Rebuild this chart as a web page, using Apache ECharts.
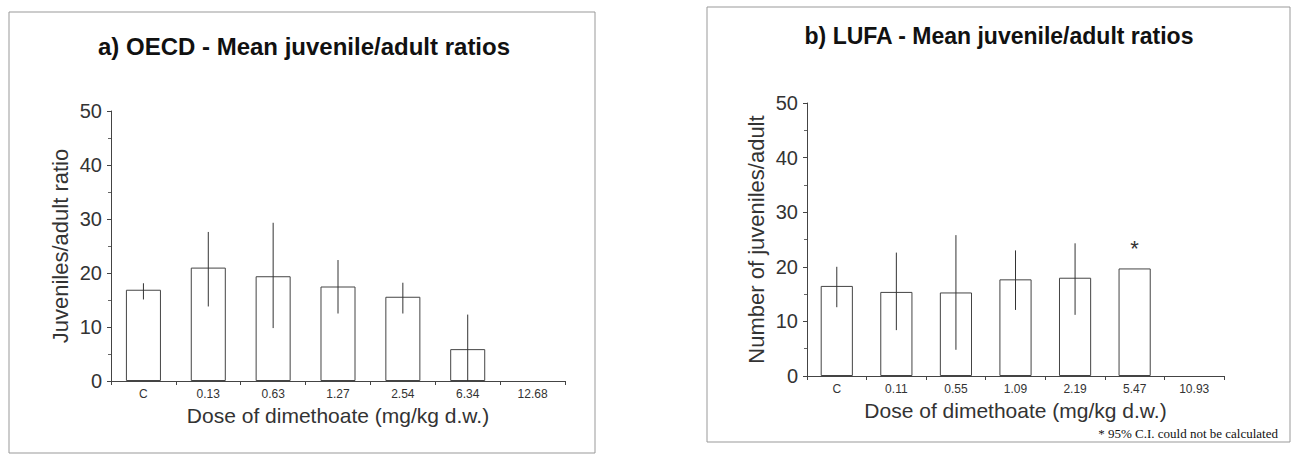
<!DOCTYPE html>
<html>
<head>
<meta charset="utf-8">
<script src="https://cdn.jsdelivr.net/npm/echarts@6/dist/echarts.min.js"></script>
<style>
  html, body { margin: 0; padding: 0; background: #fff; }
  #main { width: 1302px; height: 455px; }
</style>
</head>
<body>
<div id="main"></div>
<script>
// a) OECD
var oecdDoses = ['C', '0.13', '0.63', '1.27', '2.54', '6.34', '12.68'];
var oecdMean = [16.9, 21.0, 19.4, 17.5, 15.6, 5.9, null];
var oecdLow = [15.1, 13.8, 9.8, 12.5, 12.5, 0, null];
var oecdHigh = [18.1, 27.6, 29.3, 22.4, 18.2, 12.3, null];

// b) LUFA
var lufaDoses = ['C', '0.11', '0.55', '1.09', '2.19', '5.47', '10.93'];
var lufaMean = [16.5, 15.4, 15.3, 17.7, 18.0, 19.7, null];
var lufaLow = [12.6, 8.4, 4.8, 12.1, 11.2, null, null];
var lufaHigh = [20.0, 22.6, 25.8, 23.0, 24.3, null, null];
var lufaNote = ['', '', '', '', '', '*', ''];

var yTicks = [0, 10, 20, 30, 40, 50];

var ink = '#333';
var font = "'Liberation Sans', Arial, sans-serif";

// error bars: [category index, low, high]
function errData(low, high) {
    var out = [];
    for (var i = 0; i < low.length; i++) {
        if (low[i] != null && high[i] != null) out.push([i, low[i], high[i]]);
    }
    return out;
}

function renderErr(params, api) {
    var p1 = api.coord([api.value(0), api.value(1)]);
    var p2 = api.coord([api.value(0), api.value(2)]);
    return {
        type: 'line',
        shape: { x1: p1[0], y1: p1[1], x2: p2[0], y2: p2[1] },
        style: { stroke: ink, lineWidth: 1 }
    };
}

function xAx(idx, cats) {
    return {
        type: 'category',
        gridIndex: idx,
        data: cats,
        name: 'Dose of dimethoate (mg/kg d.w.)',
        nameLocation: 'middle',
        nameGap: 21,
        nameTextStyle: { fontFamily: font, fontSize: 21, color: ink },
        axisLine: { lineStyle: { color: '#444', width: 1 } },
        axisTick: { show: true, length: 4, lineStyle: { color: '#444' } },
        axisLabel: { fontFamily: font, fontSize: 12, color: ink, margin: 7 }
    };
}

function yAx(idx, name, gap) {
    return {
        type: 'value',
        gridIndex: idx,
        min: yTicks[0],
        max: yTicks[yTicks.length - 1],
        interval: 10,
        name: name,
        nameLocation: 'middle',
        nameGap: gap,
        nameTextStyle: { fontFamily: font, fontSize: 22, color: ink },
        axisLine: { show: true, lineStyle: { color: '#444', width: 1 } },
        axisTick: { show: true, length: 4, lineStyle: { color: '#444' } },
        minorTick: { show: true, splitNumber: 2, length: 3, lineStyle: { color: '#666' } },
        splitLine: { show: false },
        axisLabel: { fontFamily: font, fontSize: 20, color: ink, margin: 9 }
    };
}

var chart = echarts.init(document.getElementById('main'), null, { renderer: 'svg' });

var option = {
    backgroundColor: '#fff',
    animation: false,
    grid: [
        { left: 111, top: 111, width: 454, height: 270 },
        { left: 807, top: 103, width: 417, height: 273 }
    ],
    xAxis: [xAx(0, oecdDoses), xAx(1, lufaDoses)],
    yAxis: [yAx(0, 'Juveniles/adult ratio', 40), yAx(1, 'Number of juveniles/adult', 40)],
    graphic: [
        // panel frames
        { type: 'rect', shape: { x: 9, y: 12, width: 586, height: 441 },
          style: { fill: 'none', stroke: '#999', lineWidth: 1 }, silent: true },
        { type: 'rect', shape: { x: 707, y: 7, width: 583, height: 435 },
          style: { fill: 'none', stroke: '#999', lineWidth: 1 }, silent: true },
        { type: 'text', x: 304, y: 46,
          style: { text: 'a) OECD - Mean juvenile/adult ratios', font: 'bold 24px ' + font,
                   fill: '#111', textAlign: 'center', textVerticalAlign: 'middle' } },
        { type: 'text', x: 999, y: 36,
          style: { text: 'b) LUFA - Mean juvenile/adult ratios', font: 'bold 23px ' + font,
                   fill: '#111', textAlign: 'center', textVerticalAlign: 'middle' } },
        { type: 'text', x: 1278, y: 433,
          style: { text: '* 95% C.I. could not be calculated',
                   font: "13px 'Liberation Serif', 'Times New Roman', serif",
                   fill: '#111', textAlign: 'right', textVerticalAlign: 'middle' } }
    ],
    series: [
        {
            type: 'bar', xAxisIndex: 0, yAxisIndex: 0,
            data: oecdMean, barWidth: '54%',
            itemStyle: { color: '#fff', borderColor: '#444', borderWidth: 1 }
        },
        {
            type: 'custom', xAxisIndex: 0, yAxisIndex: 0,
            data: errData(oecdLow, oecdHigh), renderItem: renderErr, z: 5
        },
        {
            type: 'bar', xAxisIndex: 1, yAxisIndex: 1,
            data: lufaMean, barWidth: '54%',
            itemStyle: { color: '#fff', borderColor: '#444', borderWidth: 1 },
            label: {
                show: true, position: 'top', distance: 9,
                fontFamily: font, fontSize: 22, color: ink,
                formatter: function (p) { return lufaNote[p.dataIndex]; }
            }
        },
        {
            type: 'custom', xAxisIndex: 1, yAxisIndex: 1,
            data: errData(lufaLow, lufaHigh), renderItem: renderErr, z: 5
        }
    ]
};

chart.setOption(option);
</script>
</body>
</html>
